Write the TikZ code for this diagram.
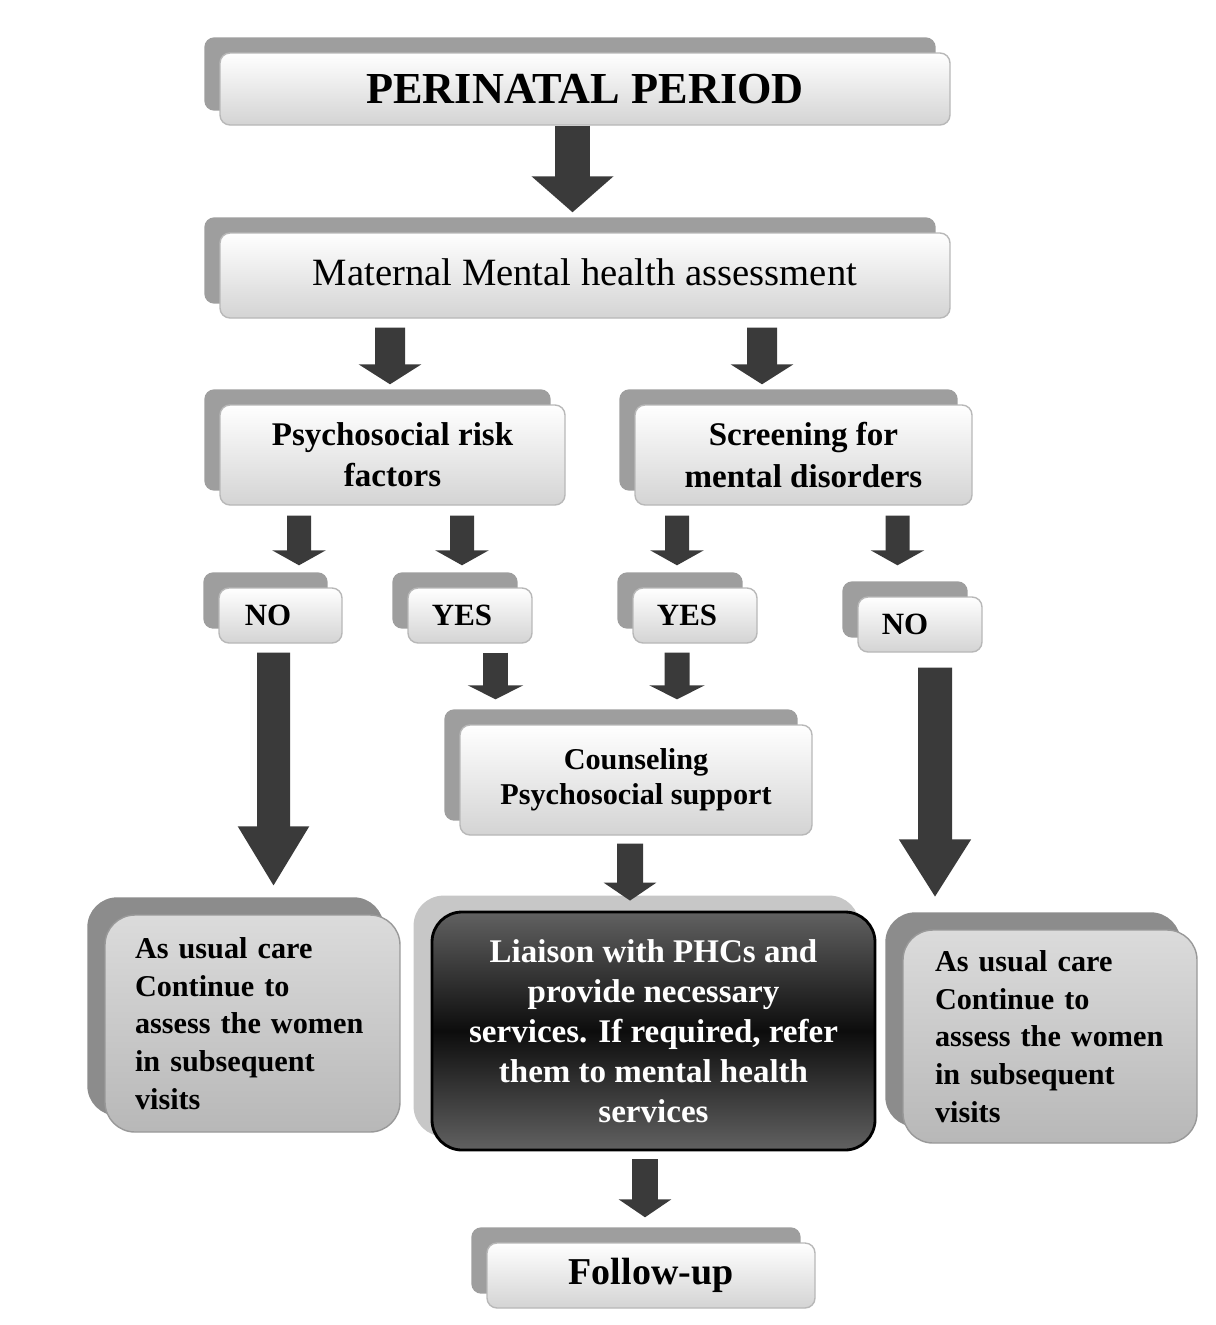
\documentclass[tikz,border=0pt]{standalone}
\usepackage{fontspec}
\setmainfont{Liberation Serif}
\usetikzlibrary{arrows.meta,backgrounds}

\definecolor{arrowgray}{HTML}{3A3A3A}
\definecolor{deckgray}{HTML}{9E9E9E}

\tikzset{
  card/.style={draw=black!28, rounded corners=0.1cm, top color=white, bottom color=black!17,
    align=center, inner sep=2pt},
  sidecard/.style={draw=black!40, rounded corners=0.3cm, top color=black!14, bottom color=black!28,
    align=left, inner sep=0pt, font=\fontsize{8.6}{10.7}\selectfont\bfseries},
  blk/.style n args={5}{draw=arrowgray, line width=#1cm, -{Triangle[width=#2cm,length=#3cm]},
    shorten <=#4cm, shorten >=#5cm}
}

\begin{document}
\begin{tikzpicture}
  \useasboundingbox (0,0) rectangle (12.15,-13.25);

  % boxes
  \node[card, minimum width=7.3cm, minimum height=0.72cm, font=\fontsize{12.6}{14}\selectfont\bfseries]
    (title) at (5.85,-0.89) {PERINATAL PERIOD};
  \node[card, minimum width=7.3cm, minimum height=0.85cm, font=\fontsize{11}{13}\selectfont]
    (mat) at (5.85,-2.755) {\raisebox{0.07cm}{Maternal Mental health assessment}};
  \node[card, minimum width=3.45cm, minimum height=1cm, font=\fontsize{9.4}{11.7}\selectfont\bfseries]
    (psy) at (3.925,-4.55) {Psychosocial risk\\factors};
  \node[card, minimum width=3.37cm, minimum height=1cm, font=\fontsize{9.4}{11.7}\selectfont\bfseries]
    (scr) at (8.035,-4.55) {Screening for\\mental disorders};

  \node[card, minimum width=1.23cm, minimum height=0.55cm, font=\fontsize{8.8}{10}\selectfont\bfseries]
    (no1) at (2.805,-6.155) {NO\hspace{0.25cm}};
  \node[card, minimum width=1.24cm, minimum height=0.55cm, font=\fontsize{8.8}{10}\selectfont\bfseries]
    (yes1) at (4.70,-6.155) {YES\hspace{0.16cm}};
  \node[card, minimum width=1.24cm, minimum height=0.55cm, font=\fontsize{8.8}{10}\selectfont\bfseries]
    (yes2) at (6.95,-6.155) {YES\hspace{0.16cm}};
  \node[card, minimum width=1.24cm, minimum height=0.55cm, font=\fontsize{8.8}{10}\selectfont\bfseries]
    (no2) at (9.20,-6.245) {NO\hspace{0.3cm}};

  \node[card, minimum width=3.52cm, minimum height=1.1cm, font=\fontsize{8.6}{10}\selectfont\bfseries]
    (coun) at (6.36,-7.80) {Counseling\\Psychosocial support};

  \node[sidecard, minimum width=2.95cm, minimum height=2.17cm, text width=2.35cm]
    (left) at (2.525,-10.235) {As usual care\\Continue to\\assess the women\\in subsequent\\visits};
  \node[draw=black, line width=0.8pt, rounded corners=0.3cm, top color=black!62, bottom color=black!62,
    middle color=black!95, text=white, align=center, minimum width=4.43cm, minimum height=2.38cm,
    font=\fontsize{9.4}{11.4}\selectfont\bfseries]
    (liai) at (6.535,-10.31) {Liaison with PHCs and\\provide necessary\\services. If required, refer\\them to mental health\\services};
  \node[sidecard, minimum width=2.94cm, minimum height=2.13cm, text width=2.30cm]
    (right) at (10.50,-10.365) {As usual care\\Continue to\\assess the women\\in subsequent\\visits};

  \node[card, minimum width=3.28cm, minimum height=0.65cm, font=\fontsize{10.8}{12}\selectfont\bfseries]
    (fol) at (6.51,-12.755) {Follow-up};

  % back cards
  \begin{scope}[on background layer]
    \foreach \n in {title,mat,psy,scr,no1,yes1,yes2,no2,coun,fol}
      \fill[deckgray, rounded corners=0.1cm] ([shift={(-0.15,0.15)}]\n.south west) rectangle ([shift={(-0.15,0.15)}]\n.north east);
    \foreach \n in {left,right}
      \fill[black!45, rounded corners=0.3cm] ([shift={(-0.17,0.17)}]\n.south west) rectangle ([shift={(-0.17,0.17)}]\n.north east);
    \fill[black!22, rounded corners=0.3cm] ([shift={(-0.17,0.15)}]liai.south west) rectangle ([shift={(-0.17,0.15)}]liai.north east);
  \end{scope}

  % arrows
  \draw[blk={0.35}{0.80}{0.36}{0}{0.20}] ([xshift=-0.125cm]title.south) -- ([xshift=-0.125cm]mat.north);
  \draw[blk={0.30}{0.62}{0.20}{0.09}{0.20}] ([xshift=-1.95cm]mat.south) -- ([xshift=-0.025cm]psy.north);
  \draw[blk={0.30}{0.62}{0.20}{0.09}{0.20}] ([xshift=1.77cm]mat.south) -- ([xshift=-0.415cm]scr.north);

  \draw[blk={0.24}{0.53}{0.15}{0.10}{0.22}] ([xshift=-0.935cm]psy.south) -- ([xshift=0.185cm]no1.north);
  \draw[blk={0.24}{0.53}{0.15}{0.10}{0.22}] ([xshift=0.695cm]psy.south) -- ([xshift=-0.08cm]yes1.north);
  \draw[blk={0.24}{0.53}{0.15}{0.10}{0.22}] ([xshift=-1.265cm]scr.south) -- ([xshift=-0.18cm]yes2.north);
  \draw[blk={0.24}{0.53}{0.15}{0.10}{0.31}] ([xshift=0.94cm]scr.south) -- ([xshift=-0.225cm]no2.north);

  \draw[blk={0.33}{0.67}{0.60}{0.09}{0.28}] ([xshift=-0.07cm]no1.south) -- ([xshift=0.21cm]left.north);
  \draw[blk={0.25}{0.55}{0.14}{0.09}{0.25}] ([xshift=0.255cm]yes1.south) -- ([xshift=-1.405cm]coun.north);
  \draw[blk={0.25}{0.55}{0.14}{0.09}{0.25}] ([xshift=-0.18cm]yes2.south) -- ([xshift=0.41cm]coun.north);
  \draw[blk={0.34}{0.68}{0.58}{0.15}{0.32}] ([xshift=0.15cm]no2.south) -- ([xshift=-1.15cm]right.north);

  \draw[blk={0.26}{0.52}{0.18}{0.08}{0.10}] ([xshift=-0.06cm]coun.south) -- ([xshift=-0.235cm]liai.north);
  \draw[blk={0.26}{0.52}{0.18}{0.08}{0.25}] ([xshift=-0.085cm]liai.south) -- ([xshift=-0.06cm]fol.north);

\end{tikzpicture}
\end{document}
